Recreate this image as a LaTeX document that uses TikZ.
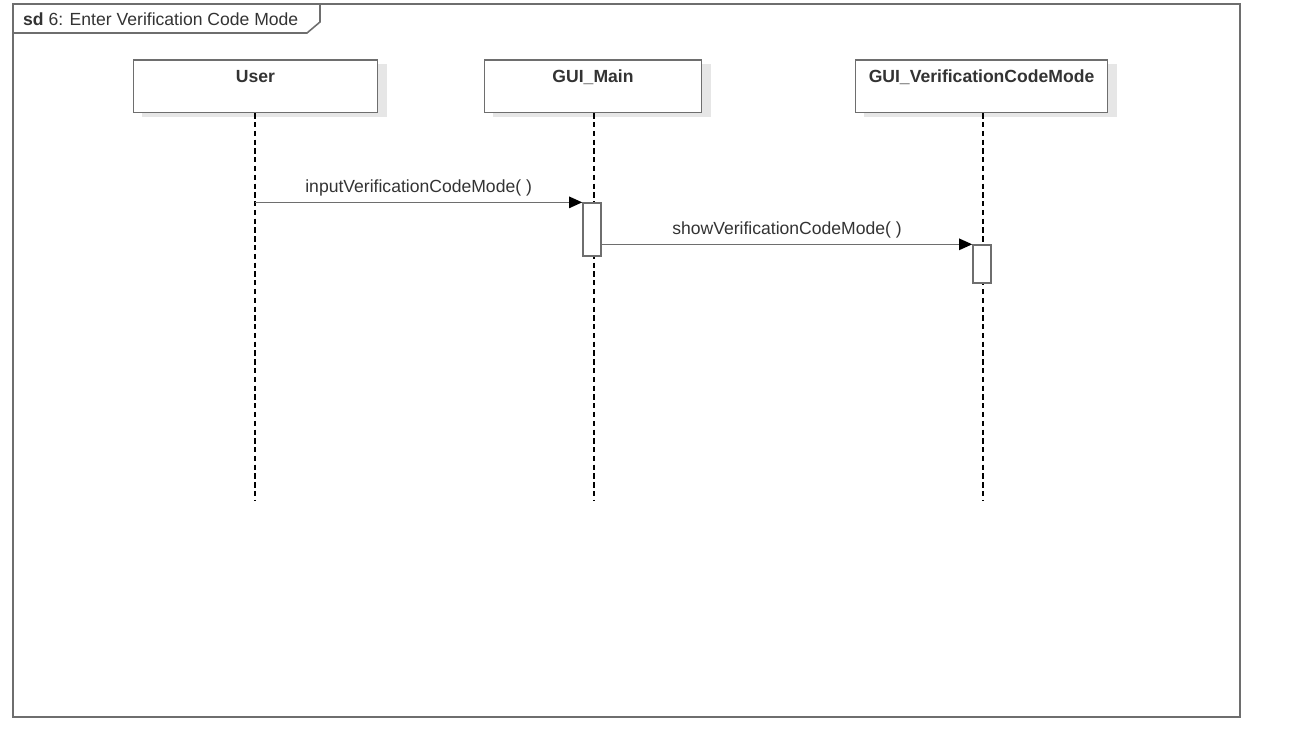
\documentclass[tikz,border=0pt]{standalone}
\usepackage{fontspec}
\setmainfont{Liberation Sans}
\usetikzlibrary{arrows.meta, positioning, calc}

\definecolor{linegray}{HTML}{6E6E6E}
\definecolor{textgray}{HTML}{333333}
\definecolor{shadowgray}{HTML}{E6E6E6}

\begin{document}
\begin{tikzpicture}[x=0.02cm, y=-0.02cm, font=\color{textgray},
    lifebox/.style={draw=linegray, line width=0.9pt, fill=white, anchor=north,
        minimum height=30pt, text height=10pt, text depth=14pt, inner sep=3pt,
        font=\bfseries\color{textgray}},
    actbox/.style={draw=linegray, line width=0.9pt, fill=white, minimum width=10.2pt, inner sep=0pt},
    lifeline/.style={black, line width=0.6pt, dash pattern=on 3pt off 2pt},
    msg/.style={-{Triangle[length=7.5pt, width=6.5pt, color=black]}, draw=linegray, line width=0.9pt},
    msglabel/.style={above, inner sep=3pt}]
    \useasboundingbox (0,0) rectangle (1295,733);

    % Frame
    \draw[linegray, line width=0.9pt] (13,4) rectangle (1240,717);
    \draw[linegray, line width=0.9pt] (13,33) -- (307,33) -- (320,22) -- (320,4);
    \node (title) [anchor=west] at (17,19) {\textbf{sd} 6: Enter Verification Code Mode};

    % Shadows
    \fill[shadowgray] (142,64) rectangle (387,117);
    \fill[shadowgray] (493,64) rectangle (711,117);
    \fill[shadowgray] (864,64) rectangle (1117,117);

    % Lifelines
    \node (User) [lifebox, minimum width=138.9pt] at (255.5,59) {User};
    \node (Main) [lifebox, minimum width=123.6pt] at (593,59) {GUI\_Main};
    \node (VCM) [lifebox, minimum width=143.4pt] at (981.5,59) {GUI\_VerificationCodeMode};

    \coordinate (User-end) at (255,500);
    \coordinate (Main-end) at (594,500);
    \coordinate (VCM-end) at (983,500);

    \draw[lifeline] (User.south -| User-end) -- (User-end);
    \draw[lifeline] (Main.south -| Main-end) -- (Main-end);
    \draw[lifeline] (VCM.south -| VCM-end) -- (VCM-end);

    % Activations
    \node (act1) [actbox, minimum height=30pt] at (592,229.5) {};
    \node (act2) [actbox, minimum height=21.5pt] at (982,264) {};

    % Messages
    \draw[msg] (User-end |- act1.north west) -- node[msglabel] {inputVerificationCodeMode( )} (act1.north west);
    \draw[msg] (act1.east |- act2.north west) -- node[msglabel] {showVerificationCodeMode( )} (act2.north west);
\end{tikzpicture}
\end{document}
